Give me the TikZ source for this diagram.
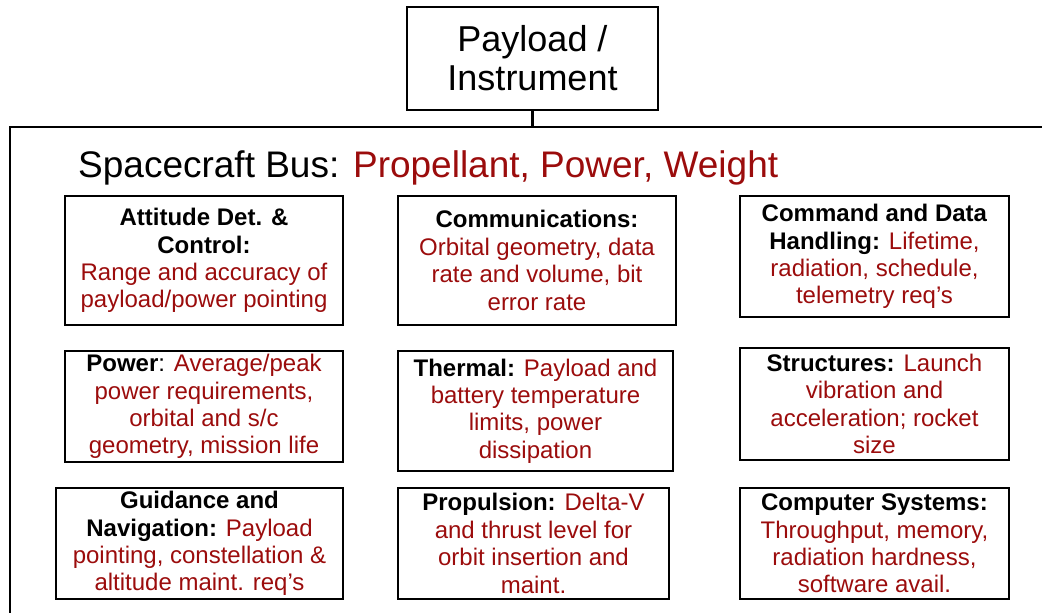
\documentclass[tikz,border=0pt]{standalone}
\usepackage{fontspec}
\setmainfont{Liberation Sans}
\definecolor{busred}{RGB}{155,12,12}
\newcommand\hd[1]{\textcolor{black}{\textbf{#1}}}
\tikzset{
  box/.style={draw=black, line width=2.5pt, inner sep=0pt, align=center,
    text=busred, font=\fontsize{24}{27.4}\selectfont},
  topbox/.style={draw=black, line width=2.5pt, inner sep=0pt, align=center,
    font=\fontsize{36}{39}\selectfont},
  busline/.style={draw=black, line width=2.5pt},
}
\begin{document}
\begin{tikzpicture}[x=1pt, y=-1pt]
\useasboundingbox (0,0) rectangle (1042,613);

% payload on top of the bus
\node[topbox, minimum width=251pt, minimum height=103pt] (payload) at (532.5,58.5)
  {Payload /\\Instrument};

% bus outline (open to the right and bottom)
\coordinate (busTL) at (10,127);
\coordinate (busBL) at (10,625);
\coordinate (busTR) at (1055,127);
\coordinate (busTop) at (payload.south |- busTL);
\draw[busline] (busBL) -- (busTL) -- (busTR);
\draw[busline] (payload.south) -- (busTop);

\node[anchor=base west, inner sep=0pt, font=\fontsize{37}{40}\selectfont] (bustitle) at (78,177)
  {Spacecraft Bus: \textcolor{busred}{Propellant, Power, Weight}};

% subsystem boxes, row 1
\node[box, minimum width=278pt, minimum height=129pt] (adc) at (204,260.5)
  {\hd{Attitude Det. \&}\\\hd{Control:}\\Range and accuracy of\\payload/power pointing};
\node[box, minimum width=278pt, minimum height=129pt] (comm) at (537,260.5)
  {\hd{Communications:}\\Orbital geometry, data\\rate and volume, bit\\error rate};
\node[box, minimum width=269pt, minimum height=121pt] (cdh) at (874.5,256.5)
  {\hd{Command and Data}\\\hd{Handling:} Lifetime,\\radiation, schedule,\\telemetry req’s};

% row 2
\node[box, minimum width=278pt, minimum height=111pt] (power) at (204,406.5)
  {\hd{Power}\textcolor{black}{:} Average/peak\\power requirements,\\orbital and s/c\\geometry, mission life};
\node[box, minimum width=275pt, minimum height=120pt] (thermal) at (535.5,411)
  {\hd{Thermal:} Payload and\\battery temperature\\limits, power\\dissipation};
\node[box, minimum width=269pt, minimum height=112pt] (struct) at (874.5,404)
  {\hd{Structures:} Launch\\vibration and\\acceleration; rocket\\size};

% row 3
\node[box, minimum width=287pt, minimum height=111pt] (gnc) at (199.5,543.5)
  {\hd{Guidance and}\\\hd{Navigation:} Payload\\pointing, constellation \&\\altitude maint. req’s};
\node[box, minimum width=271pt, minimum height=111pt] (prop) at (533.5,543.5)
  {\hd{Propulsion:} Delta-V\\and thrust level for\\orbit insertion and\\maint.};
\node[box, minimum width=269pt, minimum height=111pt] (comp) at (874.5,543.5)
  {\hd{Computer Systems:}\\Throughput, memory,\\radiation hardness,\\software avail.};
\end{tikzpicture}
\end{document}
